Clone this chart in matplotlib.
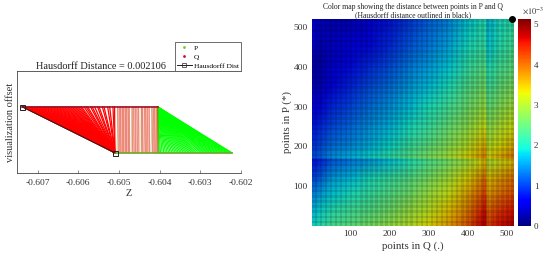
#!/usr/bin/env python
"""Hausdorff distance between P and Q, links on the left and distance map on the right."""

import numpy as np
import matplotlib as mpl

mpl.use("Agg")
import matplotlib.pyplot as plt
from matplotlib.colors import LinearSegmentedColormap

plt.rcParams["font.family"] = ["Liberation Serif", "DejaVu Serif"]
plt.rcParams["mathtext.fontset"] = "stix"

# z values of the points
q_z = [
    -0.60738, -0.60735, -0.60731, -0.60727, -0.60724, -0.6072, -0.60716, -0.60712,
    -0.60708, -0.60704, -0.607, -0.60696, -0.60692, -0.60688, -0.60684, -0.6068,
    -0.60676, -0.60672, -0.60668, -0.60664, -0.6066, -0.60656, -0.60652, -0.60648,
    -0.60644, -0.6064, -0.60636, -0.60632, -0.60628, -0.60624, -0.6062, -0.60616,
    -0.60612, -0.60608, -0.60604, -0.606, -0.60596, -0.60592, -0.60586, -0.60581,
    -0.60577, -0.6057, -0.60566, -0.6056, -0.60553, -0.60549, -0.60541, -0.60537,
    -0.60528, -0.60523, -0.60515, -0.60511,
    -0.60503, -0.60499, -0.60496, -0.60492, -0.60489, -0.60485, -0.60482,
    -0.60478, -0.60475, -0.60468, -0.60464, -0.6046, -0.60456, -0.60452,
    -0.60445, -0.60442, -0.60437, -0.60434, -0.6043, -0.60426,
    -0.60419, -0.60415, -0.60412, -0.60408, -0.60405,
]
p_z = [
    -0.6051, -0.60506, -0.60502, -0.60498, -0.60495, -0.60491, -0.60488, -0.60484,
    -0.60481, -0.60477, -0.60474, -0.6047, -0.60467, -0.60463, -0.60459, -0.60455,
    -0.60451, -0.60448, -0.60444, -0.60441, -0.60436, -0.60433, -0.60429, -0.60425,
    -0.60422, -0.60418, -0.60414, -0.60411, -0.60407, -0.60404, -0.60401,
    -0.60398, -0.60394, -0.6039,
    -0.60386, -0.60382, -0.60378, -0.60374, -0.6037, -0.60366, -0.60362, -0.60358,
    -0.60354, -0.6035, -0.60346, -0.60342, -0.60338, -0.60334, -0.6033, -0.60326,
    -0.60322, -0.60318, -0.60314, -0.6031, -0.60305, -0.603, -0.60296, -0.60292,
    -0.60288, -0.60284, -0.6028, -0.60276, -0.60272, -0.60268, -0.60264, -0.6026,
    -0.60256, -0.60252, -0.60248, -0.60244, -0.6024, -0.60236, -0.60232, -0.60228,
    -0.60225, -0.60222,
]
hausdorff_z = [-0.60738, -0.6051]
hausdorff_y = [1, 0]
hausdorff_value = 0.002106

# distance map (x 1e-3) on a coarse grid
q_index = [1, 20, 50, 100, 150, 200, 250, 300, 350, 400, 435, 447, 450, 480, 519]
p_index = [1, 40, 80, 120, 168, 172, 200, 250, 300, 350, 400, 450, 519]
dist = [
    [1.90, 2.05, 2.30, 2.45, 2.65, 2.85, 3.05, 3.35, 3.70, 4.15, 4.65, 4.90, 4.25, 4.60, 4.85],
    [1.70, 1.85, 2.05, 2.25, 2.40, 2.60, 2.85, 3.10, 3.45, 3.90, 4.40, 4.65, 4.00, 4.30, 4.55],
    [1.40, 1.55, 1.80, 2.00, 2.20, 2.40, 2.60, 2.90, 3.20, 3.65, 4.10, 4.35, 3.70, 3.95, 4.20],
    [1.05, 1.20, 1.55, 1.75, 2.00, 2.20, 2.40, 2.65, 2.95, 3.35, 3.80, 4.10, 3.45, 3.70, 3.95],
    [0.70, 0.80, 1.10, 1.30, 1.50, 1.75, 2.00, 2.30, 2.55, 2.90, 3.25, 3.60, 2.90, 3.15, 3.45],
    [1.10, 1.20, 1.50, 1.70, 1.90, 2.15, 2.40, 2.70, 2.95, 3.35, 3.70, 4.00, 3.35, 3.60, 3.95],
    [0.95, 1.05, 1.30, 1.45, 1.70, 1.90, 2.20, 2.45, 2.75, 3.10, 3.45, 3.70, 3.05, 3.30, 3.60],
    [0.75, 0.85, 1.05, 1.25, 1.50, 1.70, 1.95, 2.20, 2.50, 2.80, 3.10, 3.25, 2.75, 3.00, 3.25],
    [0.55, 0.60, 0.85, 1.05, 1.30, 1.50, 1.75, 2.00, 2.25, 2.55, 2.80, 2.90, 2.45, 2.70, 2.95],
    [0.40, 0.40, 0.65, 0.85, 1.10, 1.30, 1.55, 1.75, 2.00, 2.35, 2.55, 2.65, 2.20, 2.45, 2.70],
    [0.30, 0.30, 0.50, 0.70, 0.90, 1.10, 1.35, 1.55, 1.80, 2.15, 2.35, 2.40, 2.00, 2.25, 2.45],
    [0.50, 0.35, 0.45, 0.55, 0.70, 0.90, 1.15, 1.35, 1.60, 1.95, 2.15, 2.15, 1.80, 2.05, 2.30],
    [0.65, 0.50, 0.40, 0.40, 0.55, 0.75, 0.95, 1.20, 1.40, 1.80, 2.00, 2.05, 1.70, 1.95, 2.10],
]
# light/dark weave of the map, one entry per band of points
band_shade = [1, -1] * 40
colorbar_ticks = [0, 1, 2, 3, 4, 5]
dist_max = 5.13

fig = plt.figure(figsize=(5.5, 2.54), dpi=100)
W, H = 550.0, 254.0


def px_axes(left, top, right, bottom):
    return fig.add_axes([left / W, 1 - bottom / H, (right - left) / W, (bottom - top) / H])


# left panel: each point linked to its nearest point of the other set
ax1 = px_axes(17, 71, 241, 173)
q_arr = np.array(q_z)
p_arr = np.array(p_z)
for z in p_z:
    nearest = q_arr[np.argmin(np.abs(q_arr - z))]
    # the green links inside the overlap only show faintly through the red ones
    lw = 0.8 if z > q_z[-1] else 0.12
    ax1.plot([z, nearest], [0, 1], "-", color="#00ff00", lw=lw, zorder=1)
for z in q_z:
    nearest = p_arr[np.argmin(np.abs(p_arr - z))]
    if z < p_z[0]:
        ax1.plot([z, nearest], [1, 0], "-", color="#ff0000", lw=0.9, zorder=2)
    else:
        ax1.plot([z, nearest], [1, 0], "-", color="#ff2020", lw=1.0, alpha=0.5, zorder=2)
ax1.plot([q_z[0], q_z[-1]], [1, 1], "-", color="#a0122a", lw=1.2, zorder=3)
ax1.plot([p_z[0], p_z[-1]], [0, 0], "-", color="#6fa82a", lw=1.2, zorder=3)
ax1.plot(hausdorff_z, hausdorff_y, "-s", color="#202020", lw=0.7, ms=3.6, mfc="none", mew=0.7, zorder=4)

ax1.set_xlim(-0.60751, -0.6020)
ax1.set_ylim(-0.44, 1.78)
ax1.set_xticks([-0.607, -0.606, -0.605, -0.604, -0.603, -0.602])
ax1.set_xticklabels(["-0.607", "-0.606", "-0.605", "-0.604", "-0.603", "-0.602"], fontsize=6.8, color="#333333")
ax1.set_yticks([])
ax1.tick_params(axis="x", direction="in", length=2, width=0.4, pad=4.5, color="#333333")
ax1.set_xlabel("Z", fontsize=7.5, color="#333333", labelpad=1.5)
ax1.set_ylabel("visualization offset", fontsize=7.5, color="#333333", labelpad=1.5)
ax1.set_title("Hausdorff Distance = %.6f" % hausdorff_value, fontsize=7.4, x=0.375, pad=1.5, color="#222222")
for side in ["left", "bottom", "top"]:
    ax1.spines[side].set_linewidth(0.6)
    ax1.spines[side].set_color("#444444")
ax1.spines["right"].set_visible(False)

# legend box sits over the top right corner of the panel
handles = [
    plt.Line2D([], [], ls="none", marker=".", color="#6fd020", ms=2),
    plt.Line2D([], [], ls="none", marker=".", color="#d01030", ms=2),
    plt.Line2D([], [], ls="-", marker="s", color="#202020", lw=0.7, ms=2.6, mfc="none", mew=0.5),
]
leg = ax1.legend(
    handles, ["P", "Q", "Hausdorff Dist"], loc="lower right", bbox_to_anchor=(1.0, 0.998),
    fontsize=5.4, frameon=True, fancybox=False, framealpha=1, edgecolor="#555555",
    borderpad=0.3, labelspacing=0.38, handlelength=1.9, handletextpad=0.3, borderaxespad=0,
)
leg.get_frame().set_linewidth(0.6)
leg.set_zorder(10)

# right panel: distance map
ax2 = px_axes(312, 19, 514, 226)
mesh = ax2.pcolormesh(q_index, p_index, dist, shading="gouraud", cmap="jet", vmin=0, vmax=dist_max)
shade = LinearSegmentedColormap.from_list("shade", [(0, 0, 0, 0.2), (0, 0, 0, 0.09)])
band_edges = np.linspace(q_index[0], q_index[-1], len(band_shade) + 1)
ax2.pcolormesh(band_edges, [1, 519], [band_shade], cmap=shade, vmin=-1, vmax=1, shading="flat", antialiased=True)
ax2.pcolormesh([1, 519], band_edges, [[s] for s in band_shade], cmap=shade, vmin=-1, vmax=1, shading="flat", antialiased=True)
ax2.plot([515], [519], "o", color="black", ms=4, clip_on=False, zorder=5)
ax2.set_xlim(1, 519)
ax2.set_ylim(1, 519)
ax2.set_xticks([100, 200, 300, 400, 500])
ax2.set_yticks([100, 200, 300, 400, 500])
ax2.tick_params(labelsize=6.8, length=0, pad=3, labelcolor="#333333")
ax2.set_xlabel("points in Q (.)", fontsize=7.8, color="#333333", labelpad=2.5)
ax2.set_ylabel("points in P (*)", fontsize=7.8, color="#333333", labelpad=1)
ax2.set_title(
    "Color map showing the distance between points in P and Q\n(Hausdorff distance outlined in black)",
    fontsize=5.5, pad=1.5, linespacing=1.05, color="#222222",
)
for spine in ax2.spines.values():
    spine.set_visible(False)

cax = px_axes(518, 19, 531, 226)
cbar = fig.colorbar(mesh, cax=cax, ticks=colorbar_ticks)
cbar.ax.tick_params(labelsize=6.5, length=0, pad=2, labelcolor="#333333")
cbar.outline.set_visible(False)
cax.text(0.3, 1.015, r"$\times 10^{-3}$", transform=cax.transAxes, fontsize=6, color="#333333", va="bottom")

fig.savefig("out.png", dpi=100)
